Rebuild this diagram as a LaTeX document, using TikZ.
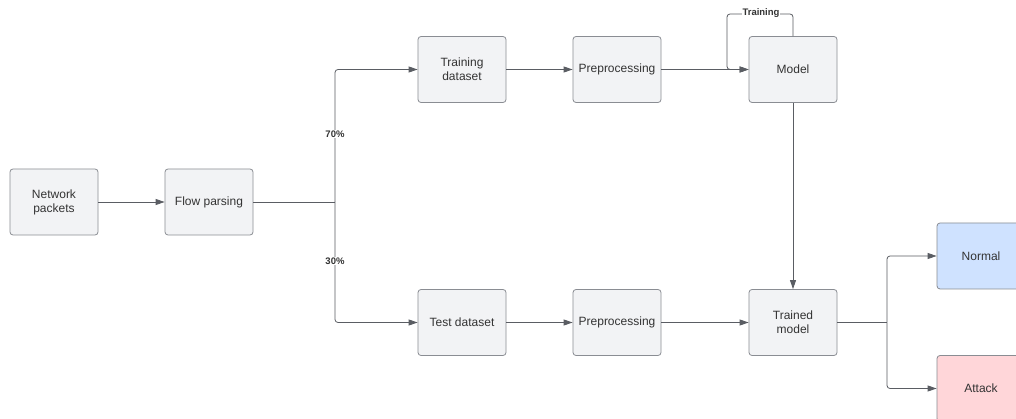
\documentclass[tikz,border=0pt]{standalone}
\usepackage{fontspec}
\setmainfont{Liberation Sans}
\usetikzlibrary{arrows.meta}
\definecolor{boxfill}{HTML}{F2F3F5}
\definecolor{boxline}{HTML}{8A8D93}
\definecolor{linec}{HTML}{5A5D63}
\definecolor{txt}{HTML}{333333}
\definecolor{normfill}{HTML}{CFE2FF}
\definecolor{attfill}{HTML}{FFD6D9}
\tikzset{
  box/.style={draw=boxline, line width=0.8pt, rounded corners=3pt, fill=boxfill,
    minimum width=88pt, minimum height=66pt, align=center, inner sep=2pt,
    font=\fontsize{12}{14}\selectfont, text=txt},
  conn/.style={draw=linec, line width=0.8pt, rounded corners=3pt},
  arr/.style={conn, -{Triangle[length=9pt,width=6pt]}},
  pct/.style={fill=white, inner sep=1pt, font=\bfseries\fontsize{9.5}{11}\selectfont, text=txt}
}
\begin{document}
\begin{tikzpicture}[x=1pt,y=-1pt]
\useasboundingbox (0,0) rectangle (1016,419);
\clip (0,0) rectangle (1016,419);
\fill[white] (0,0) rectangle (1016,419);
\node[box] (np) at (54,202) {Network\\packets};
\node[box] (fp) at (209,202) {Flow parsing};
\node[box] (trd) at (462,69.5) {Training\\dataset};
\node[box] (pre1) at (617,69.5) {Preprocessing};
\node[box] (model) at (793,69.5) {Model};
\node[box] (ted) at (462,322.5) {Test dataset};
\node[box] (pre2) at (617,322.5) {Preprocessing};
\node[box] (tm) at (793,322.5) {Trained\\model};
\node[box, fill=normfill] (normal) at (981,256) {Normal};
\node[box, fill=attfill] (attack) at (981,388.5) {Attack};
\coordinate (s1) at (335,202);
\coordinate (s2) at (887,322.5);
\coordinate (lt) at (727,14);

\draw[arr] (np) -- (fp);
\draw[conn] (fp.east) -- (s1);
\draw[arr] (s1) |- (trd.west);
\draw[arr] (s1) |- (ted.west);
\node[pct] (p70) at (335,134) {70\%};
\node[pct] (p30) at (335,261) {30\%};
\draw[arr] (trd) -- (pre1);
\draw[arr] (pre1) -- (model);
\draw[arr] (ted) -- (pre2);
\draw[arr] (pre2) -- (tm);
\draw[arr] (model.north) |- (lt) |- (model.west);
\node[pct] (tr) at (761,13) {Training};
\draw[arr] (model.south) -- (tm.north);
\draw[conn] (tm.east) -- (s2);
\draw[arr] (s2) |- (normal.west);
\draw[arr] (s2) |- (attack.west);
\end{tikzpicture}
\end{document}
